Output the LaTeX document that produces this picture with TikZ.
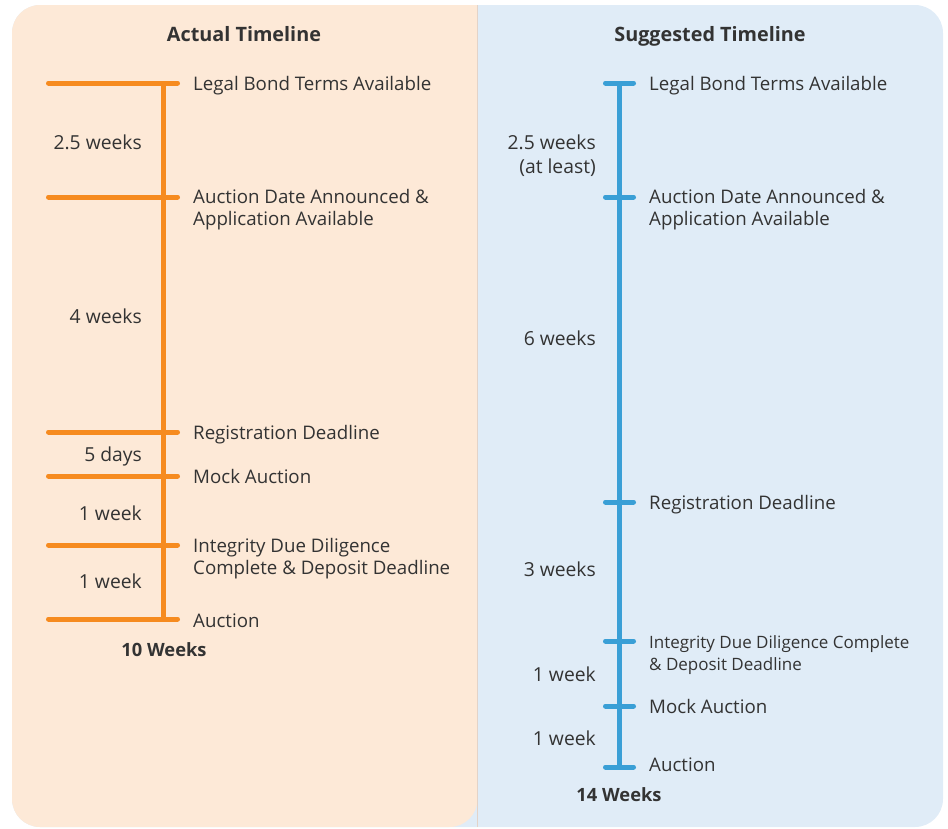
\documentclass[tikz,border=0pt]{standalone}
\usepackage{fontspec}
\setmainfont{Open Sans}
\definecolor{peach}{HTML}{FDE9D7}
\definecolor{skyb}{HTML}{E0ECF7}
\definecolor{orng}{HTML}{F68B1F}
\definecolor{blu}{HTML}{3A9FD6}
\definecolor{txt}{HTML}{333333}
\definecolor{divl}{HTML}{E3D3C8}
\begin{document}
\begin{tikzpicture}[x=1pt,y=-1pt,
  lbl/.style={anchor=base west,inner sep=0pt,font=\fontsize{18.7}{22}\selectfont,text=txt,align=left},
  dur/.style={anchor=base east,inner sep=0pt,font=\fontsize{19.3}{24}\selectfont,text=txt,align=right},
  ttl/.style={anchor=base,inner sep=0pt,font=\fontsize{19.8}{22}\selectfont\bfseries,text=txt},
  tot/.style={anchor=base,inner sep=0pt,font=\fontsize{18.3}{22}\selectfont\bfseries,text=txt},
  otick/.style={draw=orng,line width=5pt,line cap=round},
  btick/.style={draw=blu,line width=5pt,line cap=round},
  ospine/.style={draw=orng,line width=5pt},
  bspine/.style={draw=blu,line width=5pt}]
\useasboundingbox (0,0) rectangle (948,828);
% panels
\fill[skyb,rounded corners=28pt] (12,5) rectangle (943,827);
\fill[peach,rounded corners=28pt] (477.5,5) -- (12,5) -- (12,827) -- (477.5,827) [sharp corners] -- cycle;
\draw[divl,line width=1pt] (477.5,5) -- (477.5,827);

% titles
\node[ttl] (t1) at (244,41.5) {Actual Timeline};
\node[ttl] (t2) at (710,41.5) {Suggested Timeline};

% ---- left timeline
\coordinate (la) at (163,83);
\coordinate (lb) at (163,619);
\draw[ospine] (la) -- (lb);
\foreach \n/\y in {1/83,2/197,3/432,4/476,5/545,6/619}{
  \coordinate (ls\n) at (48.5,\y);
  \coordinate (le\n) at (177.5,\y);
  \draw[otick] (ls\n) -- (le\n);
}
\node[lbl] (l1) at (193,90.5) {Legal Bond Terms Available};
\node[lbl] (l2) at (193,225.5) {Auction Date Announced \&\\Application Available};
\node[lbl] (l3) at (193,439.5) {Registration Deadline};
\node[lbl] (l4) at (193,483.5) {Mock Auction};
\node[lbl] (l5) at (193,574.5) {Integrity Due Diligence\\Complete \& Deposit Deadline};
\node[lbl] (l6) at (193,627.5) {Auction};

\node[dur] (d1) at (142,149.5) {2.5 weeks};
\node[dur] (d2) at (142,323.5) {4 weeks};
\node[dur] (d3) at (142,461.5) {5 days};
\node[dur] (d4) at (142,520.5) {1 week};
\node[dur] (d5) at (142,588.5) {1 week};
\node[tot] (s1) at (164,656.5) {10 Weeks};

% ---- right timeline
\coordinate (ra) at (619,83);
\coordinate (rb) at (619,767);
\draw[bspine] (ra) -- (rb);
\foreach \n/\y in {1/83,2/197,3/502,4/641,5/706,6/767}{
  \coordinate (rs\n) at (605.5,\y);
  \coordinate (re\n) at (633.5,\y);
  \draw[btick] (rs\n) -- (re\n);
}
\node[lbl] (r1) at (649,90.5) {Legal Bond Terms Available};
\node[lbl] (r2) at (649,225.5) {Auction Date Announced \&\\Application Available};
\node[lbl] (r3) at (649,509.5) {Registration Deadline};
\node[lbl,font=\fontsize{17}{22}\selectfont] (r4) at (649,670) {Integrity Due Diligence Complete\\\& Deposit Deadline};
\node[lbl] (r5) at (649,713.5) {Mock Auction};
\node[lbl] (r6) at (649,771.5) {Auction};

\node[dur] (e1) at (596,173.5) {2.5 weeks\\(at least)};
\node[dur] (e2) at (596,345.5) {6 weeks};
\node[dur] (e3) at (596,576.5) {3 weeks};
\node[dur] (e4) at (596,681.5) {1 week};
\node[dur] (e5) at (596,745.5) {1 week};
\node[tot] (s2) at (619,801.5) {14 Weeks};
\end{tikzpicture}
\end{document}
